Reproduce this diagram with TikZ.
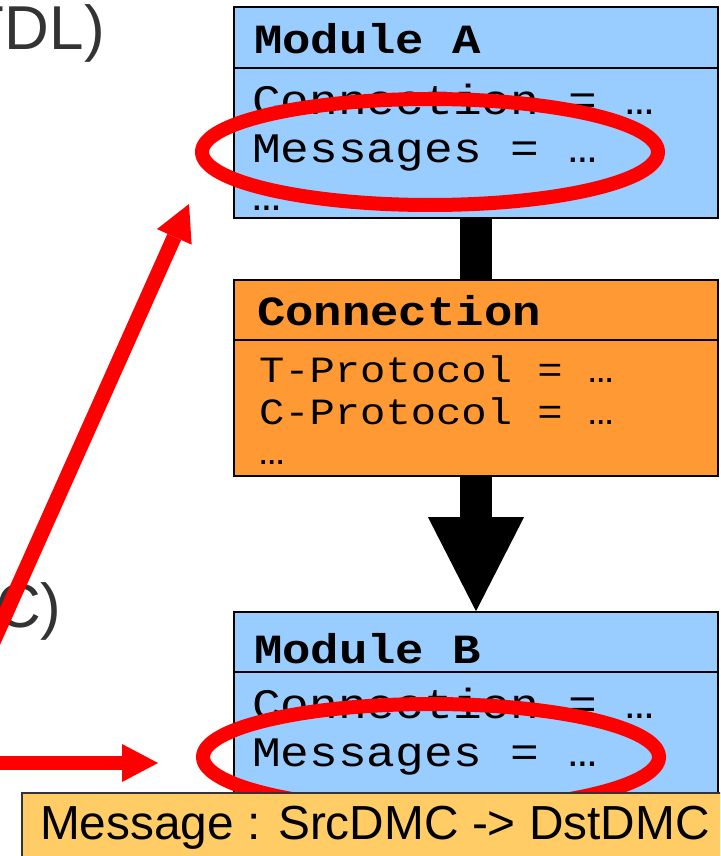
\documentclass[tikz,border=0pt]{standalone}
\usepackage{fontspec}
\usetikzlibrary{arrows.meta}
\newfontfamily\labelfont{Liberation Sans}
\newfontfamily\codefont{Liberation Mono}[FakeStretch=1.14]
\definecolor{moduleblue}{HTML}{99CCFF}
\definecolor{connorange}{HTML}{FF9933}
\definecolor{msgyellow}{HTML}{FFCC66}
\definecolor{labelgray}{HTML}{333333}
\definecolor{markred}{HTML}{FF0000}
\tikzset{
  classbox/.style={draw=black, line width=1.6pt, inner sep=0pt, rectangle},
  divider/.style={draw=black, line width=1.6pt},
  txt/.style={anchor=base west, inner sep=0pt, outer sep=0pt},
  title/.style={txt, font=\codefont\bfseries\fontsize{41.5}{48}\selectfont},
  attr/.style={txt, font=\codefont\fontsize{42}{48}\selectfont},
  cattr/.style={txt, font=\codefont\fontsize{37}{42}\selectfont},
  biglabel/.style={txt, text=labelgray, font=\labelfont\fontsize{62}{72}\selectfont},
  ring/.style={draw=markred, line width=14pt},
  pointer/.style={draw=markred, line width=#1, -{Triangle[width=38pt,length=36pt,line width=0pt]}},
  flow/.style={draw=black, line width=32pt}
}
\begin{document}
\begin{tikzpicture}[x=1pt, y=-1pt]
  \clip (0,0) rectangle (720,856);
  \fill[white] (0,0) rectangle (720,856);

  % partially visible side labels
  \node[biglabel] (lblTop) at (-33,50) {TDL)};
  \node[biglabel] (lblMid) at (-4,627) {C)};

  % Module A
  \node[classbox, fill=moduleblue, minimum width=484pt, minimum height=211pt] (modA) at (476,112.5) {};
  \draw[divider] (modA.west |- 0,68) -- (modA.east |- 0,68);
  \node[title] (modAtitle) at (254,54) {Module A};
  \node[attr] (modAconn) at (252,114) {Connection = …};
  \node[attr] (modAmsg) at (252,162) {Messages = …};
  \node[attr] (modAmore) at (252,210) {…};

  % Connection
  \node[classbox, fill=connorange, minimum width=484pt, minimum height=196pt] (conn) at (476,378) {};
  \draw[divider] (conn.west |- 0,340) -- (conn.east |- 0,340);
  \node[title] (conntitle) at (257,325) {Connection};
  \node[cattr] (connT) at (259,382) {T-Protocol = …};
  \node[cattr] (connC) at (259,424) {C-Protocol = …};
  \node[cattr] (connmore) at (259,464) {…};

  % Module B
  \node[classbox, fill=moduleblue, minimum width=484pt, minimum height=183pt] (modB) at (476,703.5) {};
  \draw[divider] (modB.west |- 0,672) -- (modB.east |- 0,672);
  \node[title] (modBtitle) at (254,663) {Module B};
  \node[attr] (modBconn) at (252,718) {Connection = …};
  \node[attr] (modBmsg) at (252,766) {Messages = …};

  % links between the boxes
  \draw[flow] (modA.south) -- (conn.north);
  \draw[flow, -{Triangle[width=96pt,length=94pt,line width=0pt]}] (conn.south) -- (modB.north);

  % highlight rings
  \draw[ring] (430,152) ellipse [x radius=228pt, y radius=53pt];
  \draw[ring] (431,757) ellipse [x radius=228pt, y radius=53pt];

  % red pointers
  \coordinate (diagStart) at (-15,660);
  \coordinate (diagTip) at (189,204);
  \coordinate (flatStart) at (-10,763);
  \coordinate (flatTip) at (158,763);
  \draw[pointer=15pt] (diagStart) -- (diagTip);
  \draw[pointer=13.5pt] (flatStart) -- (flatTip);

  % message banner
  \node[draw=labelgray, line width=1.5pt, fill=msgyellow, inner sep=0pt, minimum width=718pt, minimum height=77pt] (msg) at (381,831.5) {};
  \node[txt, font=\labelfont\fontsize{47.8}{56}\selectfont] (msgtext) at (40,839) {Message : SrcDMC -> DstDMC};
\end{tikzpicture}
\end{document}
